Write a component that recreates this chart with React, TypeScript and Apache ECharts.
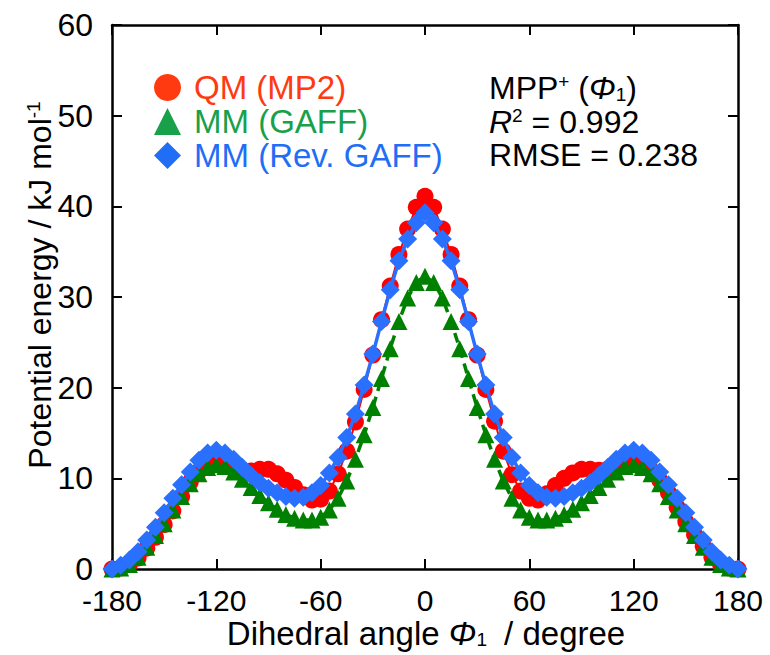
import React, { useEffect, useRef } from "react";
import * as echarts from "echarts";

const FONT = '"Liberation Sans", Arial, Helvetica, sans-serif';

const angles = [
  -180, -175, -170, -165, -160, -155, -150, -145, -140, -135, -130, -125, -120,
  -115, -110, -105, -100, -95, -90, -85, -80, -75, -70, -65, -60, -55, -50, -45,
  -40, -35, -30, -25, -20, -15, -10, -5, 0, 5, 10, 15, 20, 25, 30, 35, 40, 45,
  50, 55, 60, 65, 70, 75, 80, 85, 90, 95, 100, 105, 110, 115, 120, 125, 130,
  135, 140, 145, 150, 155, 160, 165, 170, 175, 180,
];

const qmMP2 = [
  0, 0.1, 0.5, 1.2, 2.3, 3.5, 4.9, 6.4, 8.0, 9.6, 10.8, 11.5, 11.8,
  11.5, 11.0, 10.8, 10.8, 11.0, 11.0, 10.5, 9.8, 9.0, 8.2, 7.6, 7.7, 8.6, 10.5, 13.0,
  16.2, 19.8, 23.6, 27.5, 31.2, 34.7, 37.5, 39.9, 41.1, 39.9, 37.5, 34.7, 31.2, 27.5, 23.6, 19.8, 16.3, 13.0,
  10.4, 8.6, 7.8, 7.6, 8.3, 9.2, 10.0, 10.6, 11.0, 11.0, 10.9, 11.0, 11.3, 11.7, 11.9, 11.6, 10.9,
  9.8, 8.4, 6.8, 5.2, 3.8, 2.5, 1.3, 0.5, 0.1, 0,
];

const mmGAFF = [
  0, 0.1, 0.5, 1.3, 2.4, 3.7, 5.0, 6.5, 8.0, 9.4, 10.5, 11.2, 11.5,
  11.3, 10.7, 9.9, 9.0, 8.1, 7.3, 6.6, 6.0, 5.6, 5.4, 5.4, 5.7, 6.5, 7.8, 9.7,
  12.1, 14.8, 17.8, 21.0, 24.3, 27.3, 29.9, 31.6, 32.3, 31.6, 29.9, 27.3, 24.3, 21.0, 17.8, 14.8, 12.1, 9.7,
  7.8, 6.5, 5.7, 5.4, 5.4, 5.6, 6.0, 6.6, 7.3, 8.1, 9.0, 9.9, 10.7, 11.3, 11.5, 11.2, 10.5,
  9.4, 8.0, 6.5, 5.0, 3.7, 2.4, 1.3, 0.5, 0.1, 0,
];

const mmRevGAFF = [
  0, 0.4, 1.0, 1.9, 3.2, 4.6, 6.2, 7.8, 9.3, 10.7, 12.0, 12.8, 13.1,
  12.8, 12.1, 11.2, 10.3, 9.5, 8.9, 8.4, 8.0, 7.8, 7.9, 8.4, 9.2, 10.6, 12.3, 14.5,
  17.1, 20.3, 23.7, 27.3, 30.8, 34.0, 36.4, 38.2, 39.3, 38.2, 36.4, 34.0, 30.8, 27.3, 23.7, 20.3, 17.1, 14.5,
  12.3, 10.6, 9.2, 8.4, 7.9, 7.8, 8.0, 8.4, 8.9, 9.5, 10.3, 11.2, 12.1, 12.8, 13.1, 12.8, 12.0,
  10.7, 9.3, 7.8, 6.2, 4.6, 3.2, 1.9, 1.0, 0.4, 0,
];

const xTicks = { min: -180, max: 180, interval: 60 };
const yTicks = { min: 0, max: 60, interval: 10 };

const seriesNames = ["QM (MP2)", "MM (GAFF)", "MM (Rev. GAFF)"];

const pairs = (ys: number[]) => angles.map((a, i) => [a, ys[i]]);

export default function App() {
  const ref = useRef<HTMLDivElement>(null);
  useEffect(() => {
    if (!ref.current) return;
    const chart = echarts.init(ref.current, undefined, { renderer: "svg" });
    const axisLine = { show: true, onZero: false, lineStyle: { color: "#000", width: 2.5 } };
    const tickIn = { show: true, inside: true, length: 10, lineStyle: { color: "#000", width: 2 } };
    const lbl = { color: "#000", fontFamily: FONT };
    const big = { fontSize: 32, fontFamily: FONT, fill: "#000", lineHeight: 32 };
    const bigIt = { ...big, fontStyle: "italic" };
    const sup = { fontSize: 19, fontFamily: FONT, fill: "#000", verticalAlign: "top", lineHeight: 19 };
    const sub = { fontSize: 19, fontFamily: FONT, fill: "#000", verticalAlign: "bottom", lineHeight: 19 };
    chart.setOption({
      animation: false,
      backgroundColor: "#fff",
      grid: { left: 112, top: 25, width: 626, height: 544 },
      xAxis: [
        {
          type: "value", ...xTicks, position: "bottom",
          axisLine, axisTick: tickIn, splitLine: { show: false },
          axisLabel: { ...lbl, fontSize: 30, margin: 19, lineHeight: 24 },
        },
        {
          type: "value", ...xTicks, position: "top",
          axisLine, axisTick: tickIn, splitLine: { show: false },
          axisLabel: { show: false },
        },
      ],
      yAxis: [
        {
          type: "value", ...yTicks, position: "left",
          axisLine, axisTick: tickIn, splitLine: { show: false },
          axisLabel: { ...lbl, fontSize: 32, margin: 19, lineHeight: 24 },
        },
        {
          type: "value", ...yTicks, position: "right",
          axisLine, axisTick: tickIn, splitLine: { show: false },
          axisLabel: { show: false },
        },
      ],
      legend: {
        orient: "vertical",
        left: 154,
        top: 71,
        padding: 0,
        itemGap: 1,
        itemWidth: 27,
        itemHeight: 27,
        textStyle: { fontSize: 33, fontFamily: FONT, padding: [0, 0, 0, 8] },
        data: [
          { name: seriesNames[0], icon: "circle", itemStyle: { color: "#ff3a10" }, textStyle: { color: "#ff3a10" } },
          { name: seriesNames[1], icon: "triangle", itemStyle: { color: "#18a04a" }, textStyle: { color: "#18a04a" } },
          { name: seriesNames[2], icon: "diamond", itemStyle: { color: "#1f6ef5" }, textStyle: { color: "#1f6ef5" } },
        ],
      },
      series: [
        {
          name: seriesNames[0], type: "line", data: pairs(qmMP2), z: 2,
          symbol: "circle", symbolSize: 17,
          itemStyle: { color: "#ff0000" },
          lineStyle: { color: "#ff0000", width: 2 },
        },
        {
          name: seriesNames[1], type: "line", data: pairs(mmGAFF), z: 3,
          symbol: "triangle", symbolSize: 17,
          itemStyle: { color: "#008000" },
          lineStyle: { color: "#008000", width: 3.5, type: [10, 6] },
        },
        {
          name: seriesNames[2], type: "line", data: pairs(mmRevGAFF), z: 4,
          symbol: "diamond", symbolSize: 19,
          itemStyle: { color: "#2970ff" },
          lineStyle: { color: "#2970ff", width: 3.5 },
        },
      ],
      graphic: [
        {
          type: "text", x: 489, y: 72,
          style: {
            text: "{a|MPP}{sup|+}{a| (}{it|Φ}{sub|1}{a|)}",
            rich: { a: big, it: bigIt, sup, sub },
          },
        },
        {
          type: "text", x: 489, y: 106,
          style: {
            text: "{it|R}{sup|2}{a| = 0.992}",
            rich: { a: big, it: bigIt, sup },
          },
        },
        {
          type: "text", x: 489, y: 139,
          style: {
            text: "{a|RMSE = 0.238}",
            rich: { a: big },
          },
        },
        {
          type: "text", x: 426, y: 633,
          style: {
            text: "{a|Dihedral angle }{it|Φ}{sub|1}{a| / degree}",
            align: "center", verticalAlign: "middle",
            rich: { a: { ...big, fontSize: 33 }, it: { ...bigIt, fontSize: 33 }, sub: { ...sub, padding: [0, 8, 0, 0] } },
          },
        },
        {
          type: "text", x: 40, y: 285, rotation: Math.PI / 2,
          style: {
            text: "{a|Potential energy / kJ mol}{sup|-1}",
            align: "center", verticalAlign: "middle",
            rich: { a: big, sup },
          },
        },
      ],
    });
    return () => chart.dispose();
  }, []);
  return <div ref={ref} style={{ width: 770, height: 655, position: "absolute", left: 0, top: 0 }} />;
}
